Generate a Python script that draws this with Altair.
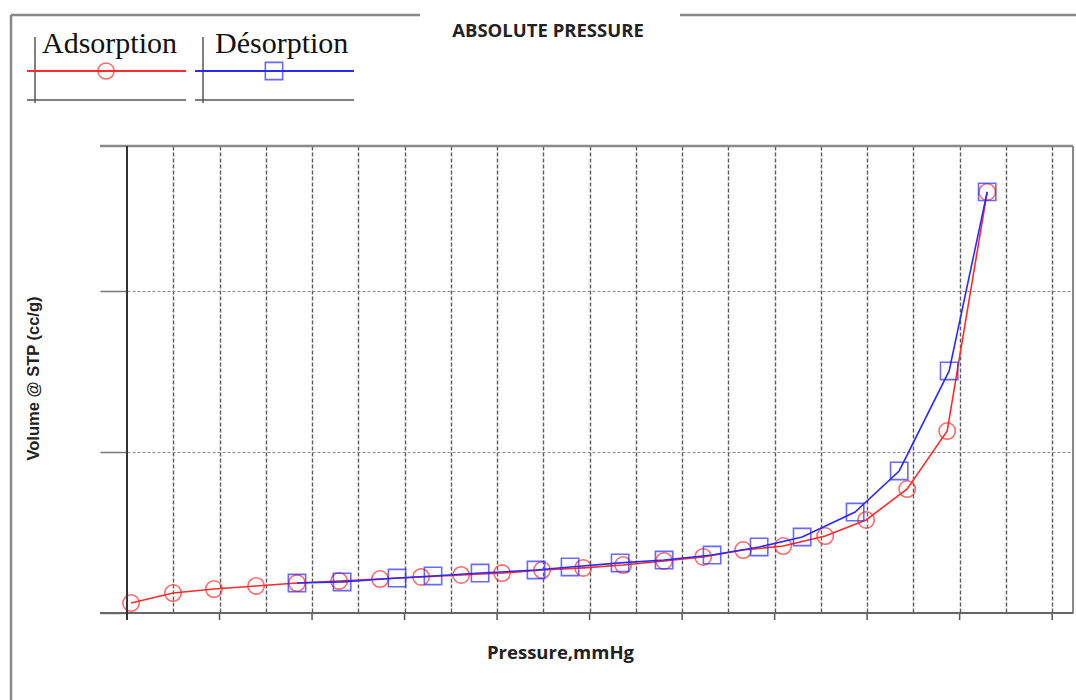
import altair as alt
import pandas as pd

# Adsorption branch (red circles)
ads_p = [3.5, 39.8, 75.2, 111.6, 147.0, 183.4, 218.8, 254.3, 288.9, 324.3, 358.9,
         394.4, 429.0, 464.4, 498.2, 532.8, 567.4, 603.7, 639.1, 674.6, 709.2, 743.8]
ads_v = [6.2, 12.4, 14.9, 16.8, 18.6, 19.9, 21.1, 22.4, 23.6, 24.8, 26.7,
         28.0, 29.8, 32.3, 34.8, 39.1, 41.6, 47.8, 57.8, 77.0, 113.0, 261.5]
# Desorption branch (blue squares)
des_p = [147.0, 186.0, 233.5, 264.6, 305.3, 353.7, 383.1, 426.4, 464.4, 505.9,
         546.6, 583.8, 629.6, 667.7, 710.9, 743.8]
des_v = [18.6, 19.3, 21.7, 23.0, 24.8, 26.7, 28.6, 31.1, 32.9, 36.0,
         41.0, 47.2, 62.7, 88.2, 150.3, 261.5]

grid_x = list(range(40, 820, 40))
major_x = list(range(0, 820, 80))
grid_y = [0, 100, 200]

W, H = 946, 467
RED = "#ff2a2a"
BLUE = "#2a2aff"

ads = pd.DataFrame({"p": ads_p, "v": ads_v})
des = pd.DataFrame({"p": des_p, "v": des_v})

xs = alt.Scale(domain=[0, 818], nice=False, zero=False)
ys = alt.Scale(domain=[0, 290], nice=False, zero=False)

x_axis = alt.Axis(values=grid_x, grid=True, gridDash=[4, 2], gridColor="#5a5a5a",
                  gridWidth=1.4, ticks=False, labels=False, domain=False,
                  title="Pressure,mmHg", titleX=433, titleY=39, titleAlign="center",
                  titleBaseline="middle", titleFont="Open Sans", titleFontSize=18.5,
                  titleFontWeight="bold", titleColor="#222")
y_axis = alt.Axis(values=grid_y, grid=True, gridDash=[3, 2], gridColor="#8a8a8a",
                  gridWidth=1.1, ticks=True, tickSize=27, tickColor="#777", tickWidth=1.5,
                  labels=False, domain=False,
                  title="Volume @ STP (cc/g)", titleX=-94, titleY=232, titleAngle=270,
                  titleAlign="center", titleBaseline="middle", titleFont="Liberation Sans",
                  titleFontSize=16.5, titleFontWeight="bold", titleColor="#222")

base_a = alt.Chart(ads).encode(x=alt.X("p:Q", scale=xs, axis=x_axis),
                               y=alt.Y("v:Q", scale=ys, axis=y_axis))
base_d = alt.Chart(des).encode(x=alt.X("p:Q", scale=xs, axis=x_axis),
                               y=alt.Y("v:Q", scale=ys, axis=y_axis))

ads_line = base_a.mark_line(color=RED, strokeWidth=1.6)
ads_pts = base_a.mark_point(shape="circle", filled=False, color=RED, size=270, strokeWidth=1.6)
des_line = base_d.mark_line(color=BLUE, strokeWidth=1.6)
des_pts = base_d.mark_point(shape="square", filled=False, color=BLUE, size=300, strokeWidth=1.6)

ticks = alt.Chart(pd.DataFrame({"p": major_x})).mark_rule(color="#555", strokeWidth=1.5).encode(
    x=alt.X("p:Q", scale=xs, axis=x_axis), y=alt.value(H), y2=alt.value(H + 7))

one = alt.Data(values=[{}])


def seg(x1, y1, x2, y2, color="#888", width=2):
    return alt.Chart(one).mark_rule(color=color, strokeWidth=width).encode(
        x=alt.value(x1), y=alt.value(y1), x2=alt.value(x2), y2=alt.value(y2))


def txt(s, x, y, size, font, weight="normal", color="#111", align="left", baseline="alphabetic"):
    return alt.Chart(one).mark_text(text=s, fontSize=size, font=font, fontWeight=weight,
                                    color=color, align=align, baseline=baseline).encode(
        x=alt.value(x), y=alt.value(y))


def sym(shape, color, x, y, size):
    return alt.Chart(one).mark_point(shape=shape, filled=False, color=color, size=size,
                                     strokeWidth=1.6).encode(x=alt.value(x), y=alt.value(y))


frame = [
    seg(-27, 0, W, 0, "#8a8a8a", 2.5),          # top
    seg(W, 0, W, H, "#8a8a8a", 2),              # right
    seg(-27, H, W, H, "#666", 2),               # bottom
    seg(0, 0, 0, H + 7, "#333", 2),             # left axis
    seg(-116, -131, -116, 560, "#888", 2.5),    # outer left
    seg(-116, -131, 293, -131, "#888", 2.5),    # outer top left part
    seg(553, -131, 960, -131, "#888", 2.5),     # outer top right part
]

legend = [
    seg(-92, -109, -92, -43, "#555", 1.5),
    seg(-100, -46, 59, -46, "#555", 1.5),
    seg(-100, -75, 59, -75, RED, 2),
    sym("circle", RED, -21, -75, 260),
    txt("Adsorption", -85, -93, 30, "Liberation Serif"),
    seg(76, -109, 76, -43, "#555", 1.5),
    seg(68, -46, 227, -46, "#555", 1.5),
    seg(68, -75, 227, -75, BLUE, 2),
    sym("square", BLUE, 147, -75, 300),
    txt("Désorption", 88, -93, 30, "Liberation Serif"),
]

title = txt("ABSOLUTE PRESSURE", 421, -115, 18.5, "Open Sans", "bold", "#222", "center", "middle")

chart = alt.layer(
    ticks, ads_line, ads_pts, des_line, des_pts, *frame, *legend, title
).properties(
    width=W, height=H,
    padding={"left": 127, "top": 146, "right": 3, "bottom": 87},
    autosize=alt.AutoSizeParams(type="none"),
    background="white",
).configure_view(stroke=None)

chart.save("out.html", embed_options={"renderer": "svg", "actions": False})
